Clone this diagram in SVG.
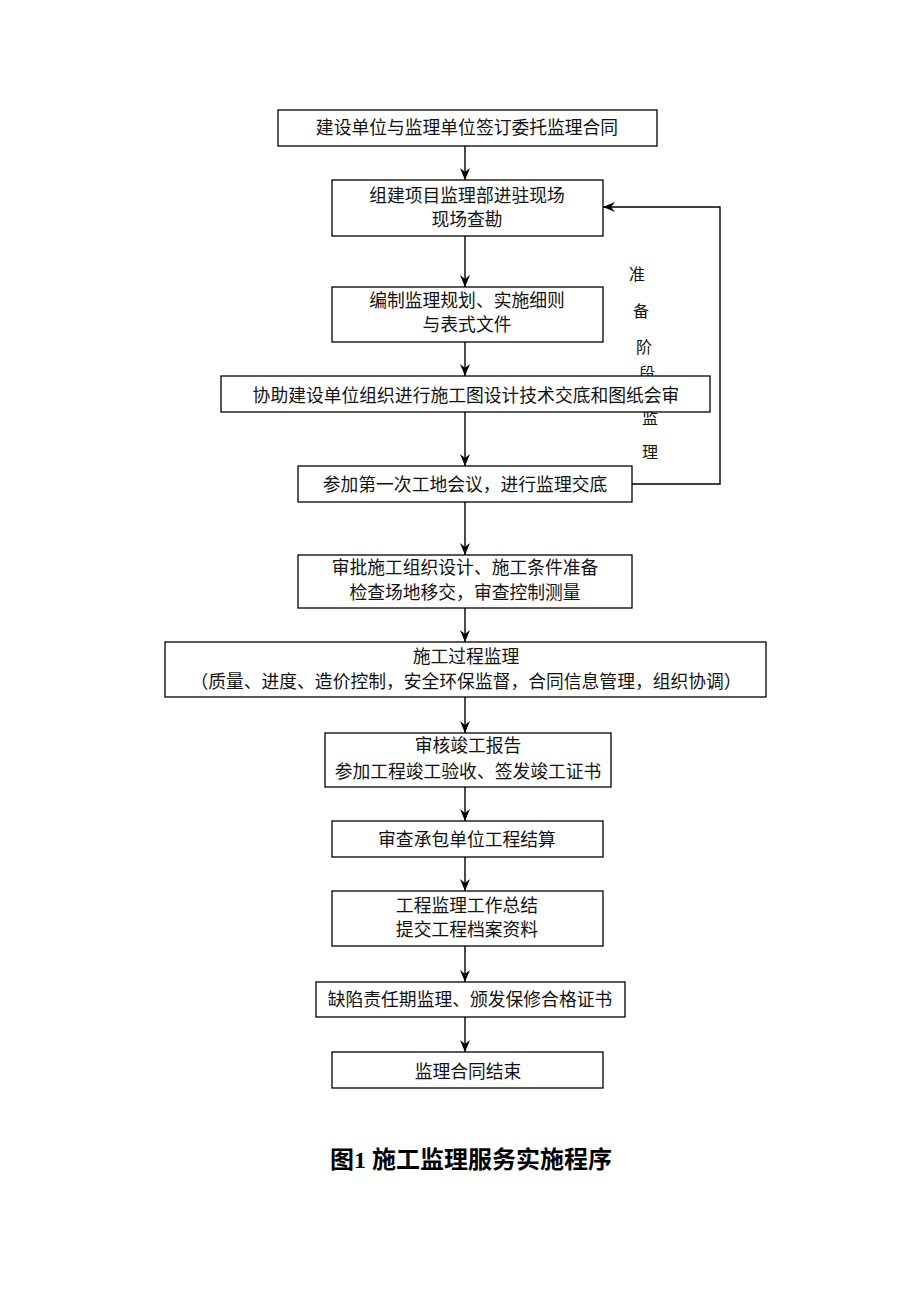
<svg xmlns="http://www.w3.org/2000/svg" width="920" height="1302" viewBox="0 0 920 1302">
<style>
.box{fill:#fff;stroke:#000;stroke-width:1.3}
.t{font-family:"Liberation Serif","Noto Sans CJK SC",serif;font-size:17.8px;fill:#111;text-anchor:middle;dominant-baseline:central}
.s{font-family:"Liberation Serif","Noto Sans CJK SC",serif;font-size:16px;fill:#111;text-anchor:middle;dominant-baseline:central}
.c{stroke:#000;stroke-width:1.4;fill:none}
.cap{font-family:"Liberation Serif","Noto Sans CJK SC",serif;font-size:24px;font-weight:bold;fill:#000;text-anchor:middle;dominant-baseline:central}
</style>
<defs>
<marker id="ah" markerWidth="14" markerHeight="10" refX="12" refY="5" orient="auto" markerUnits="userSpaceOnUse">
<path d="M0,0 L12,5 L0,10 L4,5 Z" fill="#000"/>
</marker>
</defs>
<rect width="920" height="1302" fill="#fff"/>
<g id="side-label">
<text class="s" x="637" y="274">准</text>
<text class="s" x="641" y="311">备</text>
<text class="s" x="644" y="347">阶</text>
<text class="s" x="647" y="373">段</text>
<text class="s" x="650" y="418">监</text>
<text class="s" x="650" y="452">理</text>
</g>
<g id="connectors">
<line class="c" x1="465" y1="146" x2="465" y2="180" marker-end="url(#ah)"/>
<line class="c" x1="465" y1="236" x2="465" y2="287" marker-end="url(#ah)"/>
<line class="c" x1="465" y1="342" x2="465" y2="376" marker-end="url(#ah)"/>
<line class="c" x1="465" y1="412" x2="465" y2="466" marker-end="url(#ah)"/>
<line class="c" x1="465" y1="502" x2="465" y2="555" marker-end="url(#ah)"/>
<line class="c" x1="465" y1="608" x2="465" y2="642" marker-end="url(#ah)"/>
<line class="c" x1="465" y1="697" x2="465" y2="733" marker-end="url(#ah)"/>
<line class="c" x1="465" y1="787" x2="465" y2="821" marker-end="url(#ah)"/>
<line class="c" x1="465" y1="857" x2="465" y2="891" marker-end="url(#ah)"/>
<line class="c" x1="465" y1="946" x2="465" y2="982" marker-end="url(#ah)"/>
<line class="c" x1="465" y1="1017" x2="465" y2="1052" marker-end="url(#ah)"/>
<polyline class="c" points="632,484 720,484 720,207 603,207" marker-end="url(#ah)"/>
</g>
<g id="n1"><rect class="box" x="278" y="110" width="379" height="36"/><text class="t" x="467" y="128">建设单位与监理单位签订委托监理合同</text></g>
<g id="n2"><rect class="box" x="332" y="180" width="271" height="56"/><text class="t" x="467" y="196">组建项目监理部进驻现场</text><text class="t" x="467" y="220">现场查勘</text></g>
<g id="n3"><rect class="box" x="332" y="287" width="271" height="55"/><text class="t" x="467" y="301">编制监理规划、实施细则</text><text class="t" x="467" y="325">与表式文件</text></g>
<g id="n4"><rect class="box" x="221" y="376" width="489" height="36"/><text class="t" x="466" y="396">协助建设单位组织进行施工图设计技术交底和图纸会审</text></g>
<g id="n5"><rect class="box" x="298" y="466" width="334" height="36"/><text class="t" x="465" y="485">参加第一次工地会议，进行监理交底</text></g>
<g id="n6"><rect class="box" x="298" y="555" width="334" height="53"/><text class="t" x="465" y="568">审批施工组织设计、施工条件准备</text><text class="t" x="465" y="593">检查场地移交，审查控制测量</text></g>
<g id="n7"><rect class="box" x="165" y="642" width="601" height="55"/><text class="t" x="466" y="657">施工过程监理</text><text class="t" x="466" y="682">（质量、进度、造价控制，安全环保监督，合同信息管理，组织协调）</text></g>
<g id="n8"><rect class="box" x="325" y="733" width="286" height="54"/><text class="t" x="468" y="746">审核竣工报告</text><text class="t" x="468" y="772">参加工程竣工验收、签发竣工证书</text></g>
<g id="n9"><rect class="box" x="332" y="821" width="271" height="36"/><text class="t" x="467" y="840">审查承包单位工程结算</text></g>
<g id="n10"><rect class="box" x="332" y="891" width="271" height="55"/><text class="t" x="467" y="906">工程监理工作总结</text><text class="t" x="467" y="930">提交工程档案资料</text></g>
<g id="n11"><rect class="box" x="316" y="982" width="309" height="35"/><text class="t" x="470" y="1000">缺陷责任期监理、颁发保修合格证书</text></g>
<g id="n12"><rect class="box" x="332" y="1052" width="271" height="36"/><text class="t" x="468" y="1072">监理合同结束</text></g>
<g id="caption"><text class="cap" x="471" y="1160">图1 施工监理服务实施程序</text></g>
</svg>
